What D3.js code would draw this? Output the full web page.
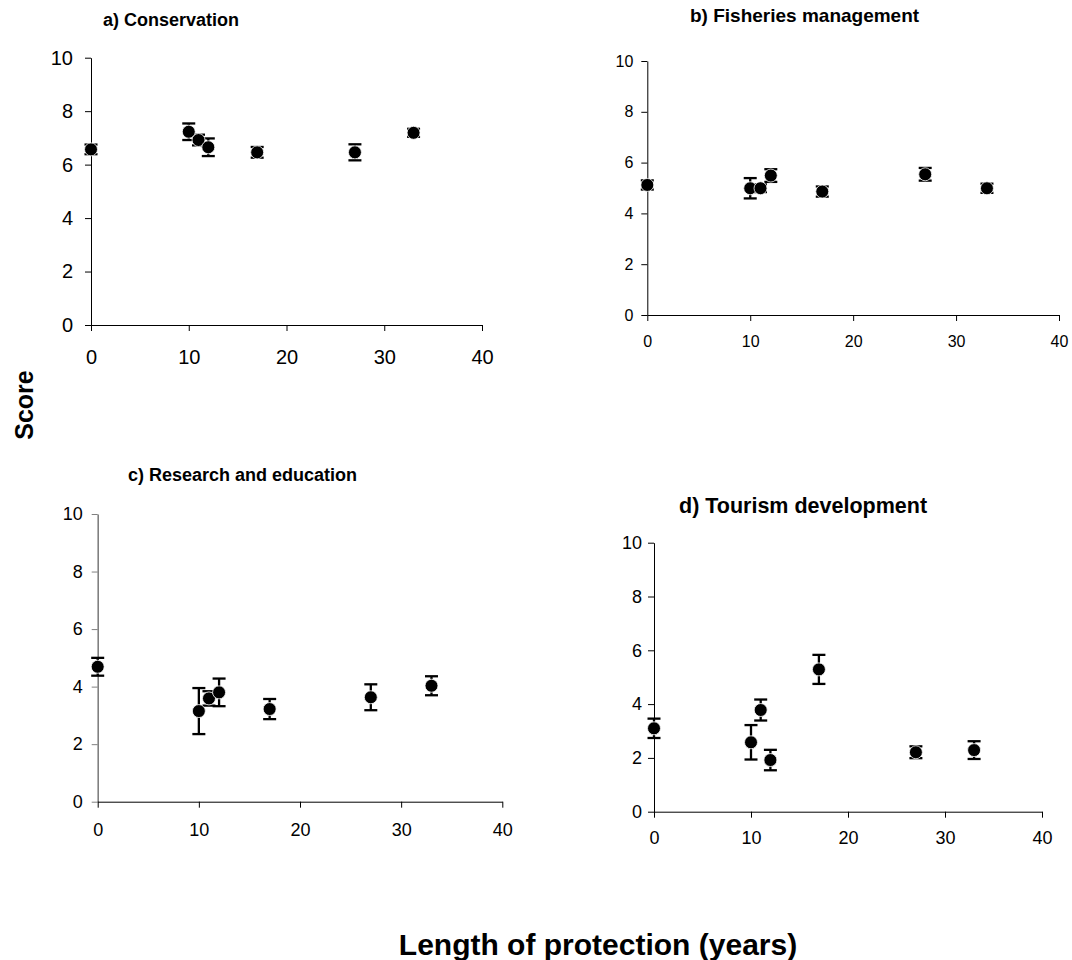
<!DOCTYPE html>
<html>
<head>
<meta charset="utf-8">
<script src="https://cdn.jsdelivr.net/npm/d3@7/dist/d3.min.js"></script>
<style>
  html, body { margin: 0; padding: 0; background: #fff; }
  svg { display: block; font-family: "Liberation Sans", Arial, sans-serif; }
</style>
</head>
<body>
<svg id="chart" width="1072" height="960"></svg>
<script>
// ---- data ----
const years = [0, 10, 11, 12, 17, 27, 33];

const conservation    = [6.57, 7.23, 6.92, 6.65, 6.46, 6.46, 7.19];
const conservationErr = [0.18, 0.31, 0.20, 0.33, 0.20, 0.30, 0.15];

const fisheries    = [5.12, 4.99, 4.99, 5.49, 4.86, 5.54, 4.99];
const fisheriesErr = [0.18, 0.40, 0.15, 0.25, 0.20, 0.25, 0.18];

const research    = [4.69, 3.15, 3.59, 3.80, 3.22, 3.63, 4.03];
const researchErr = [0.31, 0.80, 0.25, 0.48, 0.35, 0.45, 0.33];

const tourism    = [3.10, 2.58, 3.78, 1.92, 5.29, 2.21, 2.29];
const tourismErr = [0.36, 0.64, 0.39, 0.38, 0.54, 0.22, 0.33];

const xTicks = [0, 10, 20, 30, 40];
const yTicks = [0, 2, 4, 6, 8, 10];

const titles = ["a) Conservation", "b) Fisheries management", "c) Research and education", "d) Tourism development"];

// ---- panel layout ----
const panels = [
  { title: titles[0], values: conservation, errs: conservationErr,
    x0: 91, x1: 482, y0: 325, y1: 57.7, tickFont: 20, yPad: 12, xPad: 19,
    titleX: 103, titleY: 26, titleFont: 18, yAxisColor: "#000" },
  { title: titles[1], values: fisheries, errs: fisheriesErr,
    x0: 647.3, x1: 1059, y0: 315, y1: 61, tickFont: 16, yPad: 8, xPad: 15,
    titleX: 690, titleY: 22, titleFont: 19, yAxisColor: "#000" },
  { title: titles[2], values: research, errs: researchErr,
    x0: 97.7, x1: 502.3, y0: 801.7, y1: 514, tickFont: 18, yPad: 9, xPad: 15.5,
    titleX: 128, titleY: 480.5, titleFont: 18, yAxisColor: "#808080" },
  { title: titles[3], values: tourism, errs: tourismErr,
    x0: 654, x1: 1042, y0: 811.7, y1: 542.7, tickFont: 18, yPad: 6, xPad: 14,
    titleX: 679, titleY: 512.5, titleFont: 21.5, yAxisColor: "#000" }
];

const svg = d3.select("#chart");

panels.forEach(p => {
  const x = d3.scaleLinear().domain([0, 40]).range([p.x0, p.x1]);
  const y = d3.scaleLinear().domain([0, 10]).range([p.y0, p.y1]);
  const g = svg.append("g");

  // y axis
  const ya = g.append("g")
    .attr("transform", `translate(${p.x0},0)`)
    .call(d3.axisLeft(y).tickValues(yTicks).tickFormat(d3.format("d"))
      .tickSize(6).tickSizeOuter(0).tickPadding(p.yPad));
  ya.select(".domain").attr("stroke", p.yAxisColor).attr("stroke-width", p.yAxisColor === "#000" ? 1 : 1.6);
  ya.selectAll(".tick line").attr("stroke", p.yAxisColor);
  ya.selectAll(".tick text").attr("font-size", p.tickFont).attr("fill", "#000")
    .attr("font-family", "Liberation Sans, Arial, sans-serif");

  // x axis
  const xa = g.append("g")
    .attr("transform", `translate(0,${p.y0})`)
    .call(d3.axisBottom(x).tickValues(xTicks).tickFormat(d3.format("d"))
      .tickSize(6).tickSizeOuter(0).tickPadding(p.xPad));
  xa.select(".domain").attr("stroke", "#000");
  xa.selectAll(".tick line").attr("stroke", "#000");
  xa.selectAll(".tick text").attr("font-size", p.tickFont).attr("fill", "#000")
    .attr("font-family", "Liberation Sans, Arial, sans-serif");

  const pts = years.map((yr, i) => ({ yr, v: p.values[i], e: p.errs[i] }));

  // error bars
  const eb = g.append("g").attr("stroke", "#000").attr("stroke-width", 2.3).attr("fill", "none");
  pts.forEach(d => {
    const cx = x(d.yr);
    eb.append("line").attr("x1", cx).attr("x2", cx).attr("y1", y(d.v + d.e)).attr("y2", y(d.v - d.e));
    eb.append("line").attr("x1", cx - 6.5).attr("x2", cx + 6.5).attr("y1", y(d.v + d.e)).attr("y2", y(d.v + d.e));
    eb.append("line").attr("x1", cx - 6.5).attr("x2", cx + 6.5).attr("y1", y(d.v - d.e)).attr("y2", y(d.v - d.e));
  });

  // markers
  g.append("g").selectAll("circle").data(pts).join("circle")
    .attr("cx", d => x(d.yr)).attr("cy", d => y(d.v)).attr("r", 6.5)
    .attr("fill", "#000").attr("stroke", "#fff").attr("stroke-width", 0.8);

  // title
  svg.append("text").attr("x", p.titleX).attr("y", p.titleY)
    .attr("font-size", p.titleFont).attr("font-weight", "bold").attr("fill", "#000")
    .text(p.title);
});

// shared axis labels
svg.append("text")
  .attr("transform", "translate(33,405) rotate(-90)")
  .attr("text-anchor", "middle").attr("font-size", 25).attr("font-weight", "bold")
  .text("Score");

svg.append("text")
  .attr("x", 598).attr("y", 955)
  .attr("text-anchor", "middle").attr("font-size", 30).attr("font-weight", "bold")
  .text("Length of protection (years)");
</script>
</body>
</html>
